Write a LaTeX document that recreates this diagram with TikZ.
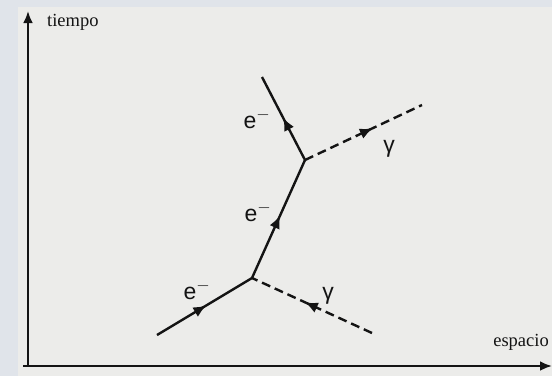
\documentclass[tikz,border=0pt]{standalone}
\usepackage{fontspec}
\setmainfont{Liberation Serif}
\newfontfamily\labfont{Liberation Sans}
\usetikzlibrary{arrows.meta,decorations.markings}
\definecolor{paper}{RGB}{236,236,234}
\definecolor{strip}{RGB}{224,228,234}
\definecolor{ink}{RGB}{20,20,20}
\tikzset{
  axis/.style={draw=ink,line width=2.8pt,-{Latex[length=12pt,width=10pt]}},
  fermion/.style={draw=ink,line width=2.4pt,postaction={decorate},
    decoration={markings,mark=at position #1 with {\arrow{Latex[length=13pt,width=11pt]}}}},
  photon/.style={draw=ink,line width=2.4pt,dash pattern=on 9pt off 5pt,postaction={decorate},
    decoration={markings,mark=at position #1 with {\arrow[solid]{Latex[length=13pt,width=11pt]}}}},
  axlabel/.style={font=\fontsize{18.5}{21}\selectfont,text=ink,inner sep=0pt},
  plabel/.style={font=\labfont\fontsize{23}{25}\selectfont,text=ink,inner sep=0pt}
}
\begin{document}
\begin{tikzpicture}[x=1pt,y=-1pt]
\useasboundingbox (0,0) rectangle (552,376);
\fill[paper] (0,0) rectangle (552,376);
\fill[strip] (0,0) rectangle (18,376);
\fill[strip] (0,0) rectangle (552,7);
% axes
\coordinate (O) at (28,366);
\coordinate (T) at (28,11);
\coordinate (X) at (552,366);
\draw[axis] (O) -- (T);
\draw[axis] (23,366) -- (X);
\node[axlabel,anchor=west] (tiempo) at (47,22) {tiempo};
\node[axlabel,anchor=east] (espacio) at (549,342) {espacio};
% vertices and ends
\coordinate (v1) at (252,278);
\coordinate (v2) at (305,160);
\coordinate (ein) at (157,335);
\coordinate (eout) at (262,77);
\coordinate (gin) at (372,333);
\coordinate (gout) at (422,105);
% lines
\draw[fermion=0.52] (ein) -- (v1);
\draw[fermion=0.53] (v1) -- (v2);
\draw[fermion=0.51] (v2) -- (eout);
\draw[photon=0.56] (gin) -- (v1);
\draw[photon=0.58] (v2) -- (gout);
% labels
\node[plabel] (l1) at (197,290) {e$^{-}$};
\node[plabel] (l2) at (258,212) {e$^{-}$};
\node[plabel] (l3) at (257,119) {e$^{-}$};
\node[plabel] (g1) at (328,296) {γ};
\node[plabel] (g2) at (389,149) {γ};
\end{tikzpicture}
\end{document}
